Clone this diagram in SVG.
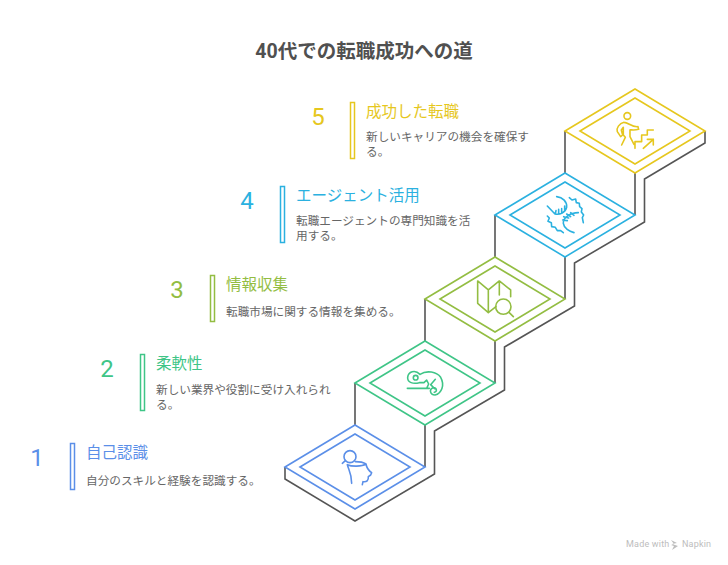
<svg xmlns="http://www.w3.org/2000/svg" width="728" height="565" viewBox="0 0 728 565">
<style>
text{font-family:"Roboto","Noto Sans CJK JP","Noto Sans",sans-serif}
.title{font-size:19.5px;font-weight:700;fill:#505050;text-anchor:middle}
.h{font-size:15.5px}
.b{font-size:11.65px;fill:#666}
.n{font-size:24px;text-anchor:middle}
.k{fill:none;stroke:#555;stroke-width:1.6;stroke-linejoin:miter}
.d{fill:none;stroke-width:1.6;stroke-linejoin:miter}
.i{fill:none;stroke-width:4.8;stroke-linecap:round;stroke-linejoin:round}
.bar{fill:#fff;stroke-width:1.5}
.c1{stroke:#5b8fe8}.f1{fill:#5b8fe8}
.c2{stroke:#3fc587}.f2{fill:#3fc587}
.c3{stroke:#93bd42}.f3{fill:#93bd42}
.c4{stroke:#2bb1e0}.f4{fill:#2bb1e0}
.c5{stroke:#e6c71e}.f5{fill:#e6c71e}
</style>
<rect width="728" height="565" fill="#fff"/>
<text class="title" x="364" y="58">40代での転職成功への道</text>
<g id="connectors">
<path class="k" d="M285,467V479L355,521L434.5,474V431L504.5,390V347L574.5,306V263L644.5,222V179L705,143V131"/>
<path class="k" d="M355,383V425M425,425V467M425,299V341M495,341V383M495,215V257M565,257V299M565,131V173M635,173V215"/>
</g>
<g id="node-1">
<rect class="bar c1" x="70.5" y="443.5" width="4" height="46"/>
<text class="n f1" x="37" y="466">1</text>
<text class="h f1" x="86" y="458">自己認識</text>
<text class="b" x="86" y="485">自分のスキルと経験を認識する。</text>
<path class="d c1" d="M285,467L355,425L425,467L355,509Z"/>
<path class="d c1" d="M300,467L355,434L410,467L355,500Z"/>
<g class="i c1" transform="translate(330,440) scale(.3333)">
<circle cx="60" cy="50" r="18"/><path d="M46,62L37,70M76,65C88,65 100,67 108,72C95,80 65,80 52,74C55,88 65,100 65,130M108,72C110,84 116,92 125,98L122,105L115,110C116,122 110,127 99,125L97,134"/>
</g>
</g>
<g id="node-2">
<rect class="bar c2" x="140.5" y="354.5" width="4" height="56"/>
<text class="n f2" x="107" y="377">2</text>
<text class="h f2" x="156" y="369">柔軟性</text>
<text class="b" x="156" y="394">新しい業界や役割に受け入れられ</text>
<text class="b" x="156" y="409">る。</text>
<path class="d c2" d="M355,383L425,341L495,383L425,425Z"/>
<path class="d c2" d="M370,383L425,350L480,383L425,416Z"/>
<g class="i c2" transform="translate(270,340) scale(.3333)">
<circle cx="437" cy="113" r="7"/><path d="M450,103C435,88 415,95 413,112C412,128 430,133 448,128H462M450,103C470,90 500,95 512,112C525,135 515,160 495,165C480,165 476,146 490,143C500,143 503,155 493,157M412,145H478M462,128L470,120L476,132L470,145M496,118L482,134L494,146"/>
</g>
</g>
<g id="node-3">
<rect class="bar c3" x="210.5" y="275.5" width="4" height="46"/>
<text class="n f3" x="177" y="298">3</text>
<text class="h f3" x="226" y="290">情報収集</text>
<text class="b" x="226" y="316">転職市場に関する情報を集める。</text>
<path class="d c3" d="M425,299L495,257L565,299L495,341Z"/>
<path class="d c3" d="M440,299L495,266L550,299L495,332Z"/>
<g class="i c3" transform="translate(410,80) scale(.3333)">
<path d="M203,603V670L235,698V630ZM235,630L268,603V645M268,603L302,630V650M235,698L258,680"/><circle cx="280" cy="680" r="23"/><path d="M297,697L310,710"/>
</g>
</g>
<g id="node-4">
<rect class="bar c4" x="280.5" y="186.5" width="4" height="56"/>
<text class="n f4" x="247" y="209">4</text>
<text class="h f4" x="296" y="201">エージェント活用</text>
<text class="b" x="296" y="225">転職エージェントの専門知識を活</text>
<text class="b" x="296" y="240">用する。</text>
<path class="d c4" d="M495,215L565,173L635,215L565,257Z"/>
<path class="d c4" d="M510,215L565,182L620,215L565,248Z"/>
<g class="i c4" transform="translate(410,80) scale(.3333)">
<path d="M440,350C458,352 472,365 470,382C466,398 450,405 435,402L412,378M436,402L438,392M446,403V388M455,400V386M464,393V378"/>
<path d="M478,353L486,360L497,357L499,368L508,370L509,380L516,386L514,396L521,405L517,413L520,428"/>
<path d="M505,398C480,398 458,415 460,430C462,445 478,455 492,458M458,420L472,422M461,410L476,414M470,402L482,410M482,398L492,406"/>
<path d="M412,408L418,414L414,424L424,428L425,440L436,442L442,452L452,452L460,458"/>
</g>
</g>
<g id="node-5">
<rect class="bar c5" x="350.5" y="102.5" width="4" height="56"/>
<text class="n f5" x="318" y="125">5</text>
<text class="h f5" x="366" y="117">成功した転職</text>
<text class="b" x="366" y="141">新しいキャリアの機会を確保す</text>
<text class="b" x="366" y="156">る。</text>
<path class="d c5" d="M565,131L635,89L705,131L635,173Z"/>
<path class="d c5" d="M580,131L635,98L690,131L635,164Z"/>
<g class="i c5" transform="translate(410,80) scale(.3333)">
<circle cx="652" cy="108" r="10"/><path d="M642,127C628,130 618,145 622,155L632,170L638,165L634,150L640,142V165L646,172L635,195M642,127C655,127 665,142 684,140L686,148C670,152 660,148 660,150V170L672,193M675,205V185H695V165H712V150H730M700,205L730,178M712,178H730V195"/>
</g>
</g>
<g id="watermark">
<text x="626" y="547" font-size="9" fill="#bdbdbd" letter-spacing=".2">Made with</text>
<path d="M671,540L677,543L672,544L678,546L672,550L674,546L671,545L674,544Z" fill="#bdbdbd"/>
<text x="682" y="547" font-size="9" fill="#bdbdbd" letter-spacing=".2">Napkin</text>
</g>
</svg>
